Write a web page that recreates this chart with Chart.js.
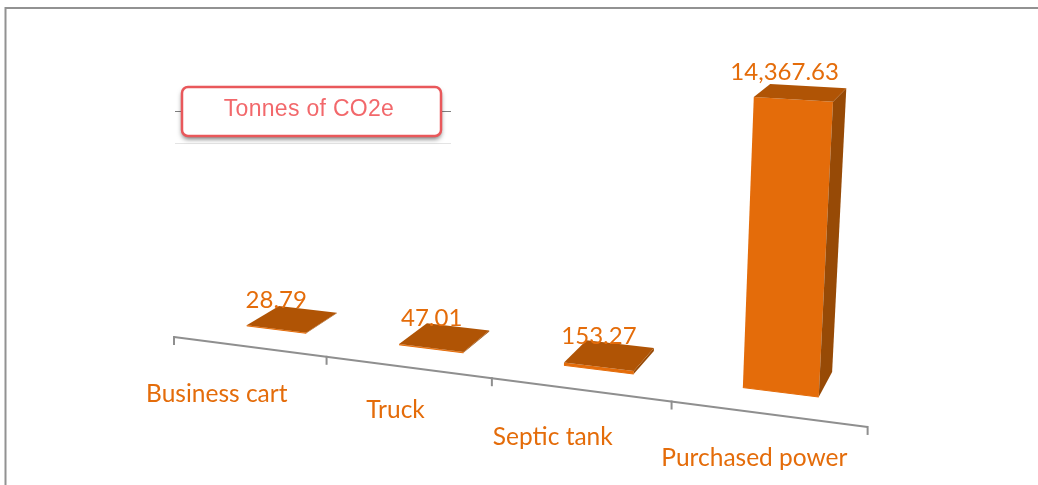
<!DOCTYPE html>
<html>
<head>
<meta charset="utf-8">
<style>html,body{margin:0;padding:0;background:#fff}canvas{display:block}</style>
<script src="https://cdn.jsdelivr.net/npm/chart.js@4/dist/chart.umd.min.js"></script>
</head>
<body>
<canvas id="c" width="1038" height="485"></canvas>
<script>
const categories = ["Business cart", "Truck", "Septic tank", "Purchased power"];
const tonnes = [28.79, 47.01, 153.27, 14367.63];
const seriesName = "Tonnes of CO2e";

// Perspective camera fitted to the picture: unit axes -> screen.
const cam = {
  origin: [174, 337], along: [560, 24.2], wAlong: -0.154,
  depthVP: [1145, -213], upVP: [471, 7600], fullHeight: 0.03654,
  front: 0.031, back: 0.069
};
function project(u, e, g) {
  const w = 1 + cam.wAlong * u + e + g;
  return [
    (cam.origin[0] + cam.along[0] * u + cam.depthVP[0] * e + cam.upVP[0] * g) / w,
    (cam.origin[1] + cam.along[1] * u + cam.depthVP[1] * e + cam.upVP[1] * g) / w
  ];
}
function quad(ctx, pts, fill) {
  ctx.beginPath();
  pts.forEach((p, i) => i ? ctx.lineTo(p[0], p[1]) : ctx.moveTo(p[0], p[1]));
  ctx.closePath();
  ctx.fillStyle = fill;
  ctx.fill();
}
const CATEGORY_FONT = '24.5px Lato';
const VALUE_FONT = '24px Lato';
const ORANGE = '#E46C0A';

const perspective = {
  id: 'perspective',
  beforeDatasetsDraw(chart, args, o) {
    const ctx = chart.ctx, a = chart.chartArea, xs = chart.scales.x;
    const toU = px => (px - a.left) / a.width;

    // frame
    ctx.save();
    ctx.strokeStyle = '#929292'; ctx.lineWidth = 2;
    ctx.beginPath(); ctx.moveTo(5.5, 485); ctx.lineTo(5.5, 8); ctx.lineTo(1038, 8); ctx.stroke();

    // sloped category axis
    ctx.strokeStyle = '#8f8f8f'; ctx.lineWidth = 2;
    ctx.beginPath();
    const s = project(0, 0, 0), t = project(1, 0, 0);
    ctx.moveTo(s[0], s[1]); ctx.lineTo(t[0], t[1]); ctx.stroke();
    for (let i = 0; i <= categories.length; i++) {
      const p = project(toU(xs.getPixelForValue(i - 0.5)), 0, 0);
      ctx.beginPath(); ctx.moveTo(p[0], p[1] - 1); ctx.lineTo(p[0], p[1] + 8); ctx.stroke();
    }

    // bars
    const meta = chart.getDatasetMeta(0);
    meta.data.forEach(el => {
      const b = el.getProps(['x', 'y', 'base', 'width'], true);
      const u0 = toU(b.x - b.width / 2), u1 = toU(b.x + b.width / 2);
      const g = -cam.fullHeight * (b.base - b.y) / a.height;
      const fl = project(u0, cam.front, 0), fr = project(u1, cam.front, 0);
      const br = project(u1, cam.back, 0);
      const tfl = project(u0, cam.front, g), tfr = project(u1, cam.front, g);
      const tbl = project(u0, cam.back, g), tbr = project(u1, cam.back, g);
      quad(ctx, [fl, fr, tfr, tfl], o.front);
      quad(ctx, [fr, br, tbr, tfr], o.side);
      quad(ctx, [tfl, tfr, tbr, tbl], o.top);
      ctx.strokeStyle = o.front; ctx.lineWidth = 1;
      ctx.beginPath(); ctx.moveTo(fl[0], fl[1]); ctx.lineTo(fr[0], fr[1]); ctx.stroke();
    });
    ctx.restore();
    return false;
  },
  afterDraw(chart, args, o) {
    const ctx = chart.ctx, a = chart.chartArea, xs = chart.scales.x;
    const toU = px => (px - a.left) / a.width;
    ctx.save();
    ctx.fillStyle = ORANGE;
    ctx.textAlign = 'center'; ctx.textBaseline = 'middle';

    // category labels
    ctx.font = CATEGORY_FONT;
    categories.forEach((c, i) => {
      const p = project(toU(xs.getPixelForValue(i)), 0, 0);
      ctx.fillText(xs.getLabelForValue(i), p[0] + o.labelDx[i], p[1] + o.labelDy[i]);
    });

    // value labels
    ctx.font = VALUE_FONT;
    chart.getDatasetMeta(0).data.forEach((el, i) => {
      const b = el.getProps(['x', 'y', 'base'], true);
      const g = -cam.fullHeight * (b.base - b.y) / a.height;
      const p = project(toU(b.x), (cam.front + cam.back) / 2, g);
      const txt = tonnes[i].toLocaleString('en-US', { minimumFractionDigits: 2 });
      ctx.fillText(txt, p[0] + o.valueDx[i], p[1] + o.valueDy[i]);
    });

    // legend picture: faint rule, key ticks, rounded box
    ctx.strokeStyle = '#e4e4e4'; ctx.lineWidth = 1;
    ctx.beginPath(); ctx.moveTo(175, 143.5); ctx.lineTo(451, 143.5); ctx.stroke();
    ctx.strokeStyle = '#7f7f7f';
    ctx.beginPath(); ctx.moveTo(175, 111.5); ctx.lineTo(182, 111.5);
    ctx.moveTo(441, 111.5); ctx.lineTo(451, 111.5); ctx.stroke();
    ctx.shadowColor = 'rgba(0,0,0,0.55)'; ctx.shadowBlur = 5; ctx.shadowOffsetY = 3;
    ctx.fillStyle = '#fff';
    ctx.beginPath(); ctx.roundRect(182, 87, 259, 49, 6); ctx.fill();
    ctx.shadowColor = 'transparent'; ctx.shadowBlur = 0; ctx.shadowOffsetY = 0;
    ctx.strokeStyle = '#E9585B'; ctx.lineWidth = 2.5;
    ctx.beginPath(); ctx.roundRect(182, 87, 259, 49, 6); ctx.stroke();
    ctx.fillStyle = '#F2686B'; ctx.font = '23px "Liberation Sans"';
    ctx.letterSpacing = '0.3px';
    ctx.fillText(chart.data.datasets[0].label, 309, 110);
    ctx.restore();
  }
};

new Chart(document.getElementById('c'), {
  type: 'bar',
  data: {
    labels: categories,
    datasets: [{
      label: seriesName,
      data: tonnes,
      backgroundColor: ORANGE,
      barPercentage: 0.4,
      categoryPercentage: 1
    }]
  },
  options: {
    responsive: false,
    animation: false,
    layout: { padding: { left: 174, right: 170, top: 86, bottom: 58 } },
    scales: {
      x: { display: false },
      y: { display: false, min: 0, max: 15000 }
    },
    plugins: {
      legend: { display: false },
      tooltip: { enabled: false },
      perspective: {
        front: ORANGE, top: '#B05405', side: '#974A06',
        labelDx: [-32, -12, -27, -13],
        labelDy: [47, 43, 47, 44],
        valueDx: [-16, -13, -10.5, -16],
        valueDy: [-19, -19, -19, -20]
      }
    }
  },
  plugins: [perspective]
});
</script>
</body>
</html>
